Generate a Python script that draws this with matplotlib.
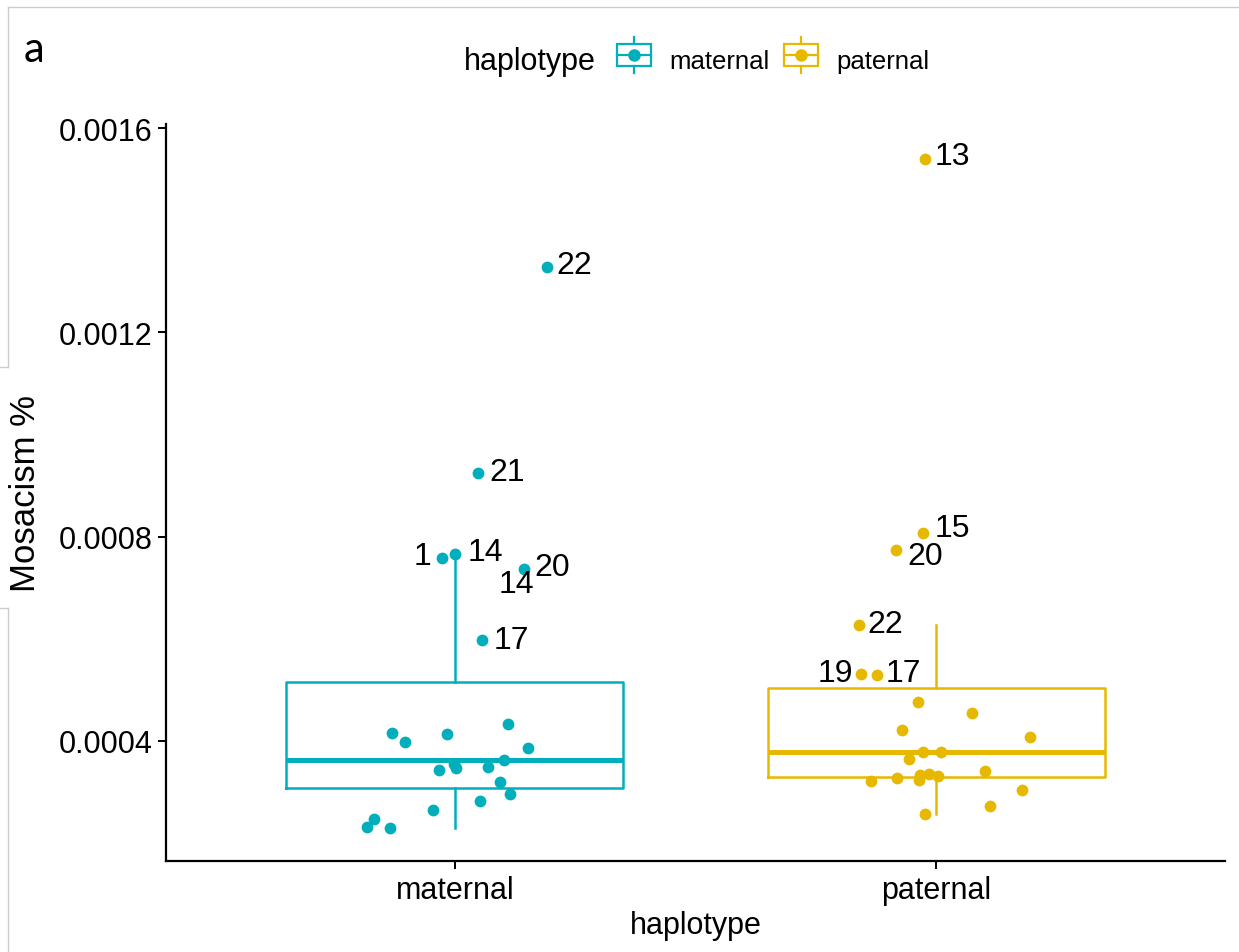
import numpy as np
import matplotlib
matplotlib.use("Agg")
import matplotlib.pyplot as plt
from matplotlib.legend_handler import HandlerBase
from matplotlib.patches import Rectangle
from matplotlib.lines import Line2D

plt.rcParams['font.family'] = ['Liberation Sans', 'DejaVu Sans']

groups = ["maternal", "paternal"]
colors = ["#00AFBB", "#E7B800"]

# jittered x position and mosaicism value of every sample
mat_x = [0.870, 0.897, 0.983, 1.110, 1.153, 1.102, 0.998, 1.002, 0.968, 1.069,
         1.094, 1.114, 1.053, 0.954, 0.832, 0.818, 0.865,
         1.056, 1.143, 0.974, 1.001, 1.048, 1.191]
mat_y = [0.000416, 0.000398, 0.000413, 0.000433, 0.000386, 0.000363, 0.000354, 0.000348,
         0.000343, 0.000350, 0.000319, 0.000296, 0.000283, 0.000265, 0.000247, 0.000232,
         0.000229, 0.000597, 0.000737, 0.000758, 0.000766, 0.000925, 0.001328]

pat_x = [1.843, 1.877, 1.962, 2.074, 1.930, 2.194, 1.973, 2.010, 1.943, 2.101,
         1.864, 1.918, 1.965, 1.967, 1.985, 2.004, 2.178, 2.111, 1.976,
         1.839, 1.917, 1.972, 1.976]
pat_y = [0.000531, 0.000529, 0.000477, 0.000454, 0.000422, 0.000408, 0.000378, 0.000378,
         0.000365, 0.000341, 0.000322, 0.000328, 0.000324, 0.000333, 0.000335, 0.000331,
         0.000304, 0.000273, 0.000257, 0.000627, 0.000773, 0.000807, 0.001540]

# chromosome labels (text, anchor x, anchor y, horizontal alignment)
lab_text = ["22", "21", "1", "14", "14", "20", "17",
            "13", "15", "20", "22", "19", "17"]
lab_x = [1.210, 1.071, 0.951, 1.027, 1.091, 1.166, 1.081,
         1.996, 1.996, 1.940, 1.857, 1.827, 1.895]
lab_y = [0.001332, 0.000927, 0.000762, 0.000770, 0.000708, 0.000741, 0.000598,
         0.001546, 0.000817, 0.000762, 0.000629, 0.000533, 0.000533]
lab_ha = ["left", "left", "right", "left", "left", "left", "left",
          "left", "left", "left", "left", "right", "left"]

yticks = [0.0004, 0.0008, 0.0012, 0.0016]


class BoxKey(HandlerBase):
    def create_artists(self, legend, orig, xd, yd, w, h, fs, trans):
        c = orig.get_color()
        cy = yd + h / 2
        bh = h * 1.0
        box = Rectangle((xd, cy - bh / 2), w, bh, fill=False, ec=c, lw=1.6, transform=trans)
        mid = Line2D([xd, xd + w], [cy, cy], color=c, lw=1.6, transform=trans)
        wt = Line2D([xd + w / 2] * 2, [cy + bh / 2, cy + bh / 2 + h * 0.3], color=c, lw=1.6, transform=trans)
        wb = Line2D([xd + w / 2] * 2, [cy - bh / 2, cy - bh / 2 - h * 0.3], color=c, lw=1.6, transform=trans)
        dot = Line2D([xd + w / 2], [cy], marker="o", ms=8, color=c, ls="none", transform=trans)
        return [box, mid, wt, wb, dot]


fig = plt.figure(figsize=(12.39, 9.53), dpi=100)
ax = fig.add_axes([0.134, 0.0955, 0.8547, 0.7733])

xs = [mat_x, pat_x]
ys = [mat_y, pat_y]
for i in range(2):
    bp = ax.boxplot([ys[i]], positions=[i + 1], widths=0.7, showfliers=False,
                    whis=1.5, patch_artist=False, showcaps=False)
    for k in ["boxes", "whiskers"]:
        for ln in bp[k]:
            ln.set_color(colors[i])
            ln.set_linewidth(1.8)
    for ln in bp["medians"]:
        ln.set_color(colors[i])
        ln.set_linewidth(3.6)
    ax.scatter(xs[i], ys[i], s=72, color=colors[i], zorder=3, linewidths=0)

for t, x, y, ha in zip(lab_text, lab_x, lab_y, lab_ha):
    ax.text(x, y, t, ha=ha, va="center", fontsize=23, color="black")

ax.set_xlim(0.4, 2.6)
ax.set_ylim(0.000165, 0.001608)
ax.set_xticks([1, 2])
ax.set_xticklabels(groups)
ax.set_yticks(yticks)
ax.set_yticklabels(["%.4f" % v for v in yticks])
ax.tick_params(labelsize=22, length=6, width=1.4, colors="black", pad=4)
for s in ["top", "right"]:
    ax.spines[s].set_visible(False)
for s in ["left", "bottom"]:
    ax.spines[s].set_linewidth(1.6)
ax.set_xlabel("haplotype", fontsize=22, labelpad=4)
ax.set_ylabel("Mosacism %", fontsize=25, labelpad=12)

handles = [Line2D([], [], color=c) for c in colors]
fig.legend(handles, groups, handler_map={Line2D: BoxKey()}, loc="center left",
           bbox_to_anchor=(0.479, 0.935), ncol=2, frameon=False, fontsize=18.5,
           handlelength=1.35, handleheight=0.95, handletextpad=0.7, columnspacing=0.55)
fig.text(0.374, 0.935, "haplotype", fontsize=22, va="center", ha="left")
fig.text(0.019, 0.948, "a", fontsize=30, va="center", ha="left", family="Lato")

# faint screenshot frame on the left and top
gray = "#cccccc"
fig.add_artist(Line2D([8 / 1239, 1], [1 - 8 / 953] * 2, color=gray, lw=1))
fig.add_artist(Line2D([8 / 1239] * 2, [1 - 8 / 953, 1 - 368 / 953], color=gray, lw=1))
fig.add_artist(Line2D([0, 8 / 1239], [1 - 368 / 953] * 2, color=gray, lw=1))
fig.add_artist(Line2D([0, 8 / 1239], [1 - 609 / 953] * 2, color=gray, lw=1))
fig.add_artist(Line2D([8 / 1239] * 2, [1 - 609 / 953, 0], color=gray, lw=1))

fig.savefig("out.png", dpi=100)
